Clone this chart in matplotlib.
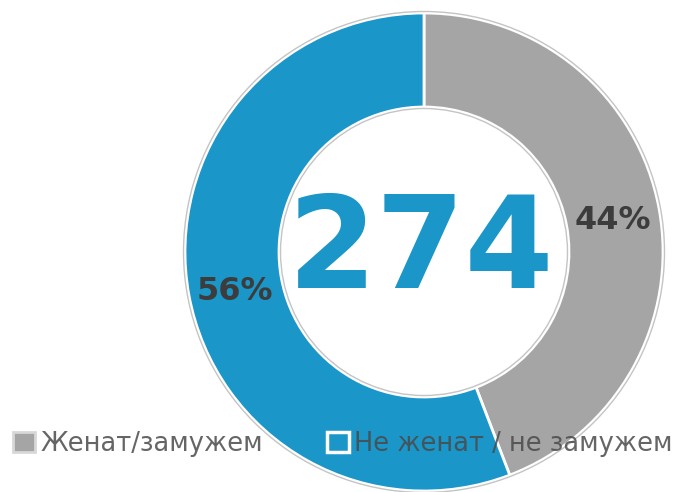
import matplotlib
matplotlib.use('Agg')
import matplotlib.pyplot as plt
from matplotlib.patches import Circle, Patch

# data
labels = ['Женат/замужем', 'Не женат / не замужем']
counts = [121, 153]
colors = ['#a5a5a5', '#1b96c8']

# layout (pixels, y up)
W, H = 676, 492
cx, cy = 424, H - 252
R, ring = 239, 94

fig = plt.figure(figsize=(W / 100, H / 100), dpi=100)
ax = fig.add_axes([0, 0, 1, 1])

wedges, texts, pcts = ax.pie(
    counts, colors=colors, startangle=90, counterclock=False,
    radius=R, center=(cx, cy), frame=True,
    wedgeprops=dict(width=ring, edgecolor='white', linewidth=2),
    autopct=lambda p: '%.0f%%' % p, pctdistance=(R - ring / 2) / R,
    textprops=dict(fontsize=23, fontweight='bold', color='#3c3c3c'))
ax.set_xlim(0, W)
ax.set_ylim(0, H)
ax.set_aspect('equal')
ax.axis('off')

# nudge the percent labels a little lower, as in the original
for t in pcts:
    x, y = t.get_position()
    t.set_position((x, y - 4))

# thin gray outlines around the ring
ax.add_patch(Circle((cx, cy), R + 1.5, fill=False, ec='#c4c4c4', lw=1))
ax.add_patch(Circle((cx, cy), R - ring - 1.5, fill=False, ec='#c4c4c4', lw=1))

# total in the middle
ax.text(cx - 3, H - 288, str(sum(counts)), ha='center', va='baseline',
        fontsize=92, fontweight='bold', color='#1b96c8')

handles = [Patch(facecolor=colors[0], edgecolor='#d8d8d8', linewidth=2),
           Patch(facecolor=colors[1], edgecolor='white', linewidth=2.5)]
leg = fig.legend(handles, labels, loc='center left', ncol=2,
                 bbox_to_anchor=(13 / W, (H - 444) / H), frameon=False,
                 fontsize=18.5, borderpad=0, borderaxespad=0,
                 handlelength=0.85, handleheight=0.85, handletextpad=0.2,
                 columnspacing=2.5)
for t in leg.get_texts():
    t.set_color('#4a4a4a')
    t.set_alpha(0.85)

fig.savefig('out.png', dpi=100)
